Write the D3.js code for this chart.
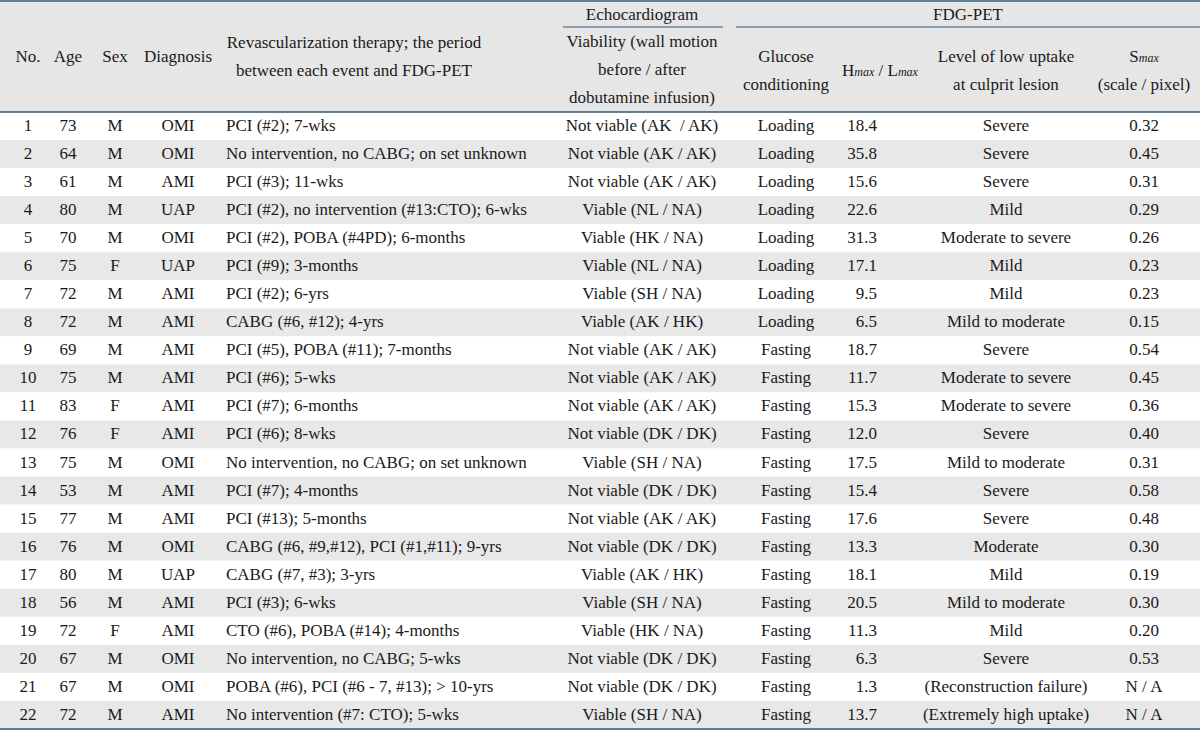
<!DOCTYPE html>
<html><head><meta charset="utf-8">
<script src="https://cdn.jsdelivr.net/npm/d3@7"></script>
<style>
html,body{margin:0;padding:0;background:#fff;}
text{font-family:"Liberation Serif","Times New Roman",serif;fill:#1a1a1a;white-space:pre;}
</style></head>
<body><svg id="c" width="1200" height="730"></svg>
<script>
const nums = d3.range(1, 23);
const ages = [73,64,61,80,70,75,72,72,69,75,83,76,75,53,77,76,80,56,72,67,67,72];
const sexes = ["M","M","M","M","M","F","M","M","M","M","F","F","M","M","M","M","M","M","F","M","M","M"];
const diagnoses = ["OMI","OMI","AMI","UAP","OMI","UAP","AMI","AMI","AMI","AMI","AMI","AMI","OMI","AMI","AMI","OMI","UAP","AMI","AMI","OMI","OMI","AMI"];
const therapies = [
  "PCI (#2); 7-wks",
  "No intervention, no CABG; on set unknown",
  "PCI (#3); 11-wks",
  "PCI (#2), no intervention (#13:CTO); 6-wks",
  "PCI (#2), POBA (#4PD); 6-months",
  "PCI (#9); 3-months",
  "PCI (#2); 6-yrs",
  "CABG (#6, #12); 4-yrs",
  "PCI (#5), POBA (#11); 7-months",
  "PCI (#6); 5-wks",
  "PCI (#7); 6-months",
  "PCI (#6); 8-wks",
  "No intervention, no CABG; on set unknown",
  "PCI (#7); 4-months",
  "PCI (#13); 5-months",
  "CABG (#6, #9,#12), PCI (#1,#11); 9-yrs",
  "CABG (#7, #3); 3-yrs",
  "PCI (#3); 6-wks",
  "CTO (#6), POBA (#14); 4-months",
  "No intervention, no CABG; 5-wks",
  "POBA (#6), PCI (#6 - 7, #13); > 10-yrs",
  "No intervention (#7: CTO); 5-wks"
];
const viability = [
  "Not viable (AK  / AK)","Not viable (AK / AK)","Not viable (AK / AK)","Viable (NL / NA)",
  "Viable (HK / NA)","Viable (NL / NA)","Viable (SH / NA)","Viable (AK / HK)",
  "Not viable (AK / AK)","Not viable (AK / AK)","Not viable (AK / AK)","Not viable (DK / DK)",
  "Viable (SH / NA)","Not viable (DK / DK)","Not viable (AK / AK)","Not viable (DK / DK)",
  "Viable (AK / HK)","Viable (SH / NA)","Viable (HK / NA)","Not viable (DK / DK)",
  "Not viable (DK / DK)","Viable (SH / NA)"
];
const glucose = ["Loading","Loading","Loading","Loading","Loading","Loading","Loading","Loading",
  "Fasting","Fasting","Fasting","Fasting","Fasting","Fasting","Fasting","Fasting","Fasting","Fasting","Fasting","Fasting","Fasting","Fasting"];
const hmax = [18.4,35.8,15.6,22.6,31.3,17.1,9.5,6.5,18.7,11.7,15.3,12.0,17.5,15.4,17.6,13.3,18.1,20.5,11.3,6.3,1.3,13.7];
const levels = ["Severe","Severe","Severe","Mild","Moderate to severe","Mild","Mild","Mild to moderate",
  "Severe","Moderate to severe","Moderate to severe","Severe","Mild to moderate","Severe","Severe","Moderate",
  "Mild","Mild to moderate","Mild","Severe","(Reconstruction failure)","(Extremely high uptake)"];
const smax = ["0.32","0.45","0.31","0.29","0.26","0.23","0.23","0.15","0.54","0.45","0.36","0.40",
  "0.31","0.58","0.48","0.30","0.19","0.30","0.20","0.53","N / A","N / A"];

const W = 1200, headTop = 1, headBottom = 112, bottom = 729;
const svg = d3.select("#c");
const lineColor = "#2f5a7a";

svg.append("rect").attr("x",0).attr("y",headTop).attr("width",W).attr("height",headBottom-headTop).attr("fill","#e6e6e6");

const y = d3.scaleBand().domain(nums).range([headBottom, bottom]).paddingInner(0).paddingOuter(0);
const fmt1 = d3.format(".1f");

const rows = nums.map((n,i)=>({n, age:ages[i], sex:sexes[i], dx:diagnoses[i], th:therapies[i], via:viability[i],
  glu:glucose[i], h:hmax[i], lev:levels[i], s:smax[i]}));

const g = svg.append("g");
g.selectAll("rect.row").data(rows).join("rect").attr("class","row")
  .attr("x",0).attr("width",W).attr("y",d=>y(d.n)).attr("height",y.bandwidth())
  .attr("fill",d=>d.n%2===0?"#e8e8e8":"#ffffff");

const cols = [
  {key:d=>d.n, x:28, anchor:"middle"},
  {key:d=>d.age, x:68, anchor:"middle"},
  {key:d=>d.sex, x:115, anchor:"middle"},
  {key:d=>d.dx, x:178, anchor:"middle"},
  {key:d=>d.th, x:226, anchor:"start"},
  {key:d=>d.via, x:642, anchor:"middle"},
  {key:d=>d.glu, x:786, anchor:"middle"},
  {key:d=>fmt1(d.h), x:877, anchor:"end"},
  {key:d=>d.lev, x:1006, anchor:"middle"},
  {key:d=>d.s, x:1144, anchor:"middle"}
];
const fs = 17;
cols.forEach(c=>{
  g.selectAll(null).data(rows).join("text")
    .attr("x",c.x).attr("y",d=>y(d.n)+y.bandwidth()/2 - 1).attr("dy","0.35em")
    .attr("text-anchor",c.anchor).attr("font-size",fs).text(c.key);
});

const h = svg.append("g").attr("font-size",fs);
function htext(lines, x, ys){
  lines.forEach((l,i)=>{
    h.append("text").attr("x",x).attr("y",ys[i]).attr("dy","0.35em").attr("text-anchor","middle").attr("font-size",fs).text(l);
  });
}
htext(["No."],28,[56]);
htext(["Age"],68,[56]);
htext(["Sex"],115,[56]);
htext(["Diagnosis"],178,[56]);
htext(["Revascularization therapy; the period","between each event and FDG-PET"],354,[42,70]);
htext(["Echocardiogram"],642,[14]);
htext(["FDG-PET"],968,[14]);
htext(["Viability (wall motion","before / after","dobutamine infusion)"],642,[41,69,97]);
htext(["Glucose","conditioning"],786,[56,84]);
htext(["(scale / pixel)"],1144,[84]);
htext(["Level of low uptake","at culprit lesion"],1006,[56,84]);

const hm = h.append("text").attr("x",880).attr("y",70).attr("dy","0.35em").attr("text-anchor","middle").attr("font-size",fs);
hm.append("tspan").text("H");
hm.append("tspan").attr("font-size",12).attr("font-style","italic").text("max");
hm.append("tspan").text(" / L");
hm.append("tspan").attr("font-size",12).attr("font-style","italic").text("max");
const sm = h.append("text").attr("x",1144).attr("y",56).attr("dy","0.35em").attr("text-anchor","middle").attr("font-size",fs);
sm.append("tspan").text("S");
sm.append("tspan").attr("font-size",12).attr("font-style","italic").text("max");

const rules = [
  {x1:0,x2:W,y:headTop,w:1.5},
  {x1:563,x2:723,y:27,w:1.2},
  {x1:736,x2:W,y:27,w:1.2},
  {x1:0,x2:W,y:headBottom,w:1.5},
  {x1:0,x2:W,y:bottom,w:1.5}
];
svg.selectAll("line.rule").data(rules).join("line").attr("class","rule")
  .attr("x1",d=>d.x1).attr("x2",d=>d.x2).attr("y1",d=>d.y).attr("y2",d=>d.y)
  .attr("stroke",lineColor).attr("stroke-width",d=>d.w);
</script></body></html>
